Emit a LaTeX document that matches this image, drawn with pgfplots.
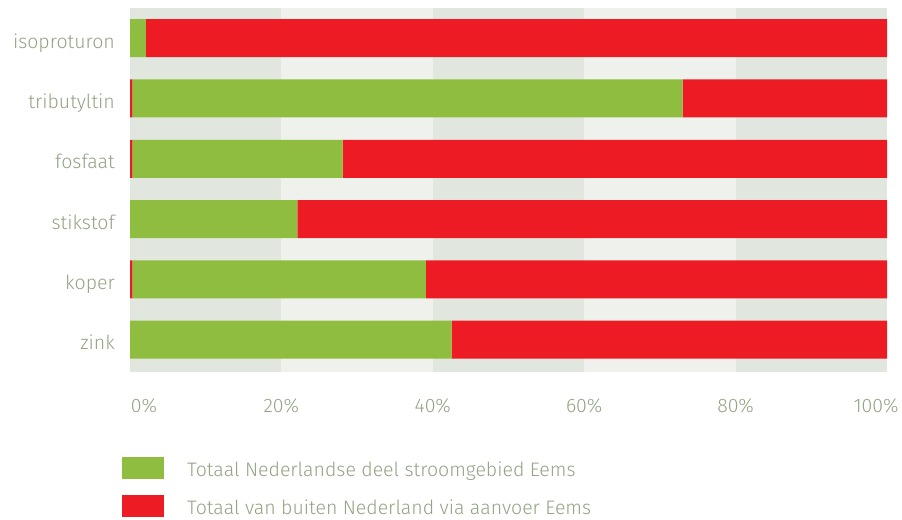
\documentclass[border=0pt]{standalone}
\usepackage{fontspec}
\setmainfont{Fira Sans Light}
\usepackage{pgfplots}
\pgfplotsset{compat=1.18}
\definecolor{grn}{HTML}{8FBD40}
\definecolor{rd}{HTML}{ED1C24}
\definecolor{bandA}{HTML}{E1E7DE}
\definecolor{bandB}{HTML}{EFF1EC}
\definecolor{txt}{HTML}{93A383}
\pgfplotstableread{
y sliver green red
0 0.0 42.5 57.5
1 0.3 38.8 60.9
2 0.0 22.1 77.9
3 0.3 27.8 71.9
4 0.3 72.7 27.0
5 0.0 2.1 97.9
}\datatab
\begin{document}
\begin{tikzpicture}[x=1bp,y=1bp]
\path[use as bounding box] (0,0) rectangle (902,-520);
% background bands (0-20, 20-40, ...)
\fill[bandA] (130,-8) rectangle (281.4,-372);
\fill[bandB] (281.4,-8) rectangle (432.8,-372);
\fill[bandA] (432.8,-8) rectangle (584.2,-372);
\fill[bandB] (584.2,-8) rectangle (735.6,-372);
\fill[bandA] (735.6,-8) rectangle (887,-372);
\begin{axis}[
  at={(130bp,-372bp)}, anchor=south west,
  scale only axis, width=757bp, height=364bp,
  xmin=0, xmax=100, ymin=-0.536, ymax=5.5,
  xbar stacked, bar width=38bp,
  axis line style={draw=none}, major tick length=0pt,
  xtick={0,20,40,60,80,100},
  xticklabels={\makebox[0pt]{\hspace*{28bp}0\%},20\%,40\%,60\%,80\%,\makebox[0pt]{100\%\hspace*{22bp}}},
  ytick={0,1,2,3,4,5},
  yticklabels={zink,koper,stikstof,fosfaat,tributyltin,isoproturon},
  tick label style={font=\fontsize{19.5bp}{22bp}\selectfont, text=txt, inner sep=0pt},
  yticklabel style={anchor=base east, xshift=-15bp, yshift=-10bp},
  xticklabel style={anchor=base, yshift=-40bp},
  clip=false,
]
\addplot[fill=rd, draw=none, forget plot] table[x=sliver, y=y] {\datatab};
\addplot[fill=grn, draw=none] table[x=green, y=y] {\datatab};
\addplot[fill=rd, draw=none] table[x=red, y=y] {\datatab};
\end{axis}
\begin{scope}[font=\fontsize{19.5bp}{22bp}\selectfont]
\fill[grn] (122,-457) rectangle (164,-479);
\fill[rd] (122,-495) rectangle (164,-517);
\node[anchor=base west, inner sep=0pt, text=txt] at (187,-476) {Totaal Nederlandse deel stroomgebied Eems};
\node[anchor=base west, inner sep=0pt, text=txt] at (187,-514) {Totaal van buiten Nederland via aanvoer Eems};
\end{scope}
\end{tikzpicture}
\end{document}
